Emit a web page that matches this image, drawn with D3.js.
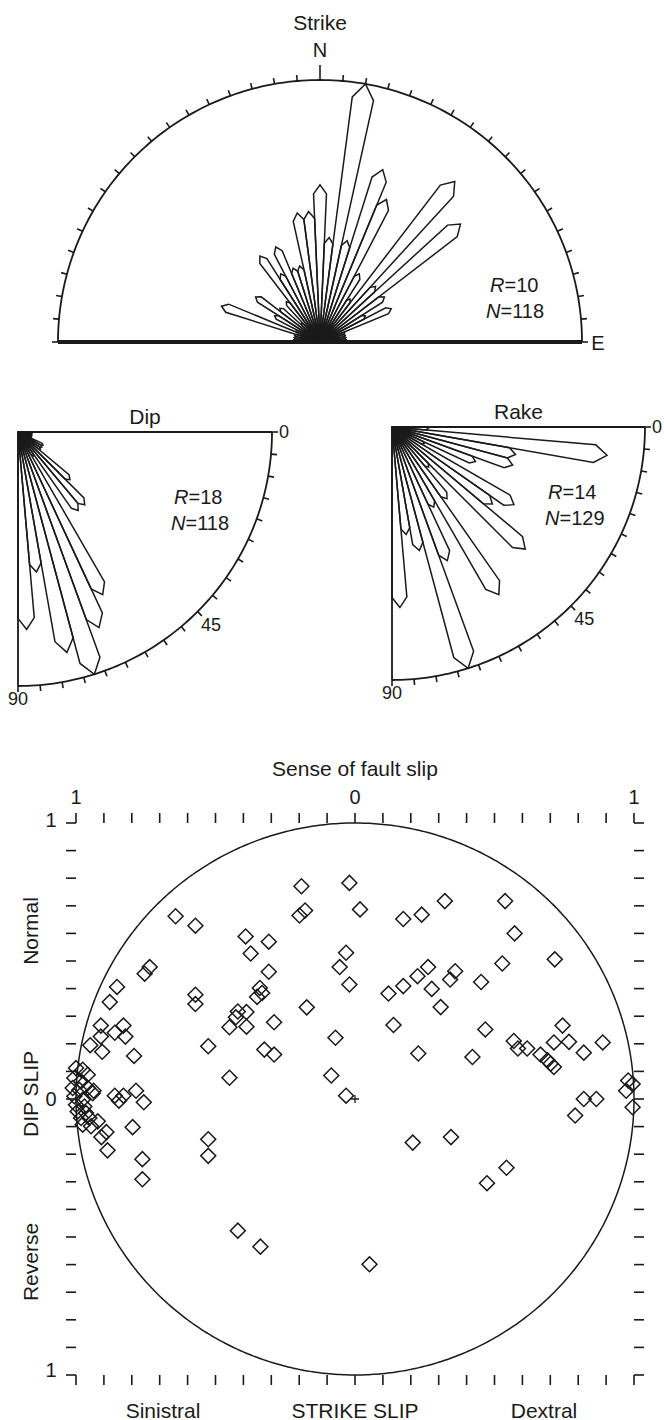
<!DOCTYPE html>
<html><head><meta charset="utf-8">
<script src="https://cdn.jsdelivr.net/npm/d3@7"></script>
<style>
body{margin:0;background:#fff;}
text{font-family:"Liberation Sans",Arial,Helvetica,sans-serif;fill:#1a1a1a;}
</style></head><body>
<svg id="chart" width="664" height="1420"></svg>
<script>
// ---------------- DATA ----------------
// Strike rose: azimuth bin centres (deg, clockwise from N) and counts
const strikeBins = [-90,-85,-80,-75,-70,-65,-60,-55,-50,-45,-40,-35,-30,-25,-20,-15,-10,-5,
                    0,5,10,15,20,25,30,35,40,45,50,55,60,65,70,75,80,85];
const strikeCounts = [1,1,1,1,4,1,2,3,2,1,2,4,3,4,3,3,5,5,
                      6,4,10,4,7,6,3,2,8,3,7,3,2,3,1,1,1,1];
const strikeR = 10, strikeN = 118;

// Dip rose: dip bin centres (deg) and counts
const dipBins = [2.5,7.5,12.5,17.5,22.5,27.5,32.5,37.5,42.5,47.5,52.5,57.5,62.5,67.5,72.5,77.5,82.5,87.5];
const dipCounts = [1,1,1,1,1,2,2,2,5,7,7,2,13,15,18,16,10,14];
const dipR = 18, dipN = 118;

// Rake rose: rake bin centres (deg) and counts
const rakeBins = [2.5,7.5,12.5,17.5,22.5,27.5,32.5,37.5,42.5,47.5,52.5,57.5,62.5,67.5,72.5,77.5,82.5,87.5];
const rakeCounts = [2,12,7,7,5,2,8,7,10,3,5,11,5,8,14,7,6,10];
const rakeR = 14, rakeN = 129;

// Sense of fault slip: strike-slip component (x, sinistral<0<dextral) and dip-slip component (y, reverse<0<normal)
const slipX = [-0.192,-0.020,0.018,-0.179,-0.199,-0.643,-0.572,0.322,0.538,0.173,0.239,0.572,-0.392,-0.309,-0.374,
  -0.032,-0.055,-0.020,0.716,0.528,0.262,0.224,0.173,0.359,0.341,0.275,0.452,0.120,0.307,-0.736,-0.754,-0.309,
  -0.341,-0.333,-0.351,-0.572,-0.572,-0.853,-0.879,-0.173,-0.420,-0.389,-0.427,-0.450,-0.389,-0.290,0.138,0.467,
  0.744,-0.911,-0.830,-0.861,-0.823,-0.911,-0.949,-0.906,-0.792,-0.526,-0.070,-0.325,-0.290,0.227,0.421,0.569,
  0.584,0.617,0.713,0.767,0.888,0.820,0.665,0.690,0.701,0.713,-0.450,-0.085,-0.032,-0.785,-0.757,-0.861,-0.830,
  -0.846,-0.797,-0.891,-0.887,-0.909,-0.937,-0.762,-0.762,-0.526,-0.526,0.207,0.344,0.473,0.543,-0.420,-0.339,
  0.052,0.820,0.865,0.789,0.995,0.972,0.995,0.979,
  -1.000,-0.976,-0.958,-1.006,-0.982,-1.012,-0.988,-0.958,-0.940,-1.006,-0.976,-1.000,-0.970,-0.994,-0.964,
  -0.982,-0.952,-0.976,-0.946,-0.922];
const slipY = [0.771,0.783,0.687,0.683,0.665,0.662,0.628,0.717,0.717,0.652,0.668,0.600,0.589,0.570,0.527,
  0.530,0.478,0.415,0.506,0.491,0.478,0.445,0.409,0.463,0.433,0.399,0.424,0.382,0.333,0.478,0.454,0.461,
  0.402,0.384,0.370,0.378,0.344,0.406,0.351,0.332,0.317,0.315,0.296,0.260,0.262,0.278,0.268,0.252,
  0.266,0.266,0.266,0.240,0.226,0.226,0.195,0.171,0.156,0.191,0.222,0.179,0.161,0.165,0.152,0.210,
  0.183,0.183,0.205,0.207,0.205,0.168,0.161,0.140,0.128,0.116,0.077,0.085,0.012,0.030,-0.012,0.012,0.012,
  -0.006,-0.102,-0.120,-0.186,-0.138,0.030,-0.218,-0.291,-0.146,-0.206,-0.158,-0.138,-0.305,-0.249,-0.477,-0.535,
  -0.599,0.000,0.000,-0.060,0.054,0.030,-0.030,0.067,
  0.112,0.106,0.088,0.076,0.064,0.040,0.033,0.040,0.021,0.010,-0.003,-0.021,-0.027,-0.045,-0.051,
  -0.069,-0.069,-0.093,-0.099,-0.081];
const slipTickLabels = ["1","0","1"];
const slipTickValues = [-1,0,1];

// ---------------- DRAWING ----------------
const svg = d3.select("#chart");
const ink = "#1a1a1a";
const deg = d3.scaleLinear().domain([0,180]).range([0,Math.PI]);

function petalPts(theta, L, hw){
  const d = 1.3 * L * Math.sin(deg(hw));
  return [[theta,0],[theta-hw,Math.max(0,L-d)],[theta,L],[theta+hw,Math.max(0,L-d)]];
}
function label(g, x, y, txt, size, anchor){
  return g.append("text").attr("x",x).attr("y",y).attr("font-size",size)
    .attr("text-anchor",anchor||"middle").attr("dominant-baseline","central").text(txt);
}
function rn(g, x, y, letter, rest, size){
  const t = g.append("text").attr("x",x).attr("y",y).attr("font-size",size);
  t.append("tspan").attr("font-style","italic").text(letter);
  t.append("tspan").text(rest);
}

// ===== Strike (half rose, angle = azimuth) =====
const S = {cx:320, cy:342, r:262};
const sR = d3.scaleLinear().domain([0,strikeR]).range([0,S.r]);
const gS = svg.append("g").attr("transform",`translate(${S.cx},${S.cy})`);
const radial = d3.lineRadial().angle(d=>deg(d[0])).radius(d=>d[1]);
gS.append("path").attr("d", radial(d3.range(-90,90.01,1).map(a=>[a,S.r])))
  .attr("fill","none").attr("stroke",ink).attr("stroke-width",1.8);
d3.range(-90,90.01,5).forEach(a=>{
  const len = a===0 ? 15 : 6;
  gS.append("path").attr("d", radial([[a,S.r],[a,S.r+len]])).attr("stroke",ink).attr("stroke-width",1.6);
});
strikeBins.forEach((b,i)=>{
  if(strikeCounts[i]<=0) return;
  gS.append("path").attr("d", radial(petalPts(b, sR(strikeCounts[i]), 2.5))+"Z")
    .attr("fill","none").attr("stroke",ink).attr("stroke-width",1.5).attr("stroke-linejoin","miter");
});
gS.append("line").attr("x1",-S.r).attr("x2",S.r).attr("y1",0).attr("y2",0)
  .attr("stroke",ink).attr("stroke-width",3.8);
label(svg, S.cx, 22, "Strike", 21);
label(svg, S.cx, 50, "N", 20);
label(svg, S.cx+S.r+16, S.cy+1, "E", 20);
rn(svg, 490, 292, "R", "="+strikeR, 20);
rn(svg, 486, 318, "N", "="+strikeN, 20);

// ===== Quadrant roses (angle from horizontal, downward) =====
function quadrant(o, r, bins, counts, maxR, nVal, title){
  const qR = d3.scaleLinear().domain([0,maxR]).range([0,r]);
  const g = svg.append("g").attr("transform",`translate(${o.x},${o.y})`);
  const qrad = d3.lineRadial().angle(d=>deg(d[0]+90)).radius(d=>d[1]);
  g.append("path").attr("d", qrad(d3.range(0,90.01,1).map(a=>[a,r])))
    .attr("fill","none").attr("stroke",ink).attr("stroke-width",1.8);
  g.append("path").attr("d", qrad([[0,r],[0,0],[90,r]])).attr("fill","none").attr("stroke",ink).attr("stroke-width",1.8);
  d3.range(0,90.01,5).forEach(a=>{
    g.append("path").attr("d", qrad([[a,r],[a,r+6]])).attr("stroke",ink).attr("stroke-width",1.6);
  });
  bins.forEach((b,i)=>{
    if(counts[i]<=0) return;
    g.append("path").attr("d", qrad(petalPts(b, qR(counts[i]), 2.5))+"Z")
      .attr("fill","none").attr("stroke",ink).attr("stroke-width",1.5);
  });
  label(g, r+12, 0, "0", 18);
  label(g, 0, r+13, "90", 18);
  const p45 = [ (r+19)*Math.cos(deg(45)), (r+19)*Math.sin(deg(45)) ];
  label(g, p45[0], p45[1], "45", 18);
  g.append("text").attr("x",r/2).attr("y",-8).attr("font-size",21).attr("text-anchor","middle").text(title);
  rn(g, 156, 72, "R", "="+maxR, 20);
  rn(g, 153, 98, "N", "="+nVal, 20);
}
quadrant({x:18,y:432}, 254, dipBins, dipCounts, dipR, dipN, "Dip");
quadrant({x:392,y:427}, 253, rakeBins, rakeCounts, rakeR, rakeN, "Rake");

// ===== Sense of fault slip =====
const xS = d3.scaleLinear().domain([-1,1]).range([76,634]);
const yS = d3.scaleLinear().domain([-1,1]).range([1375,823]);
const gP = svg.append("g");
const tk = 10;
xS.ticks(20).forEach(v=>{
  gP.append("line").attr("x1",xS(v)).attr("x2",xS(v)).attr("y1",yS(1)).attr("y2",yS(1)-tk).attr("stroke",ink).attr("stroke-width",1.6);
  gP.append("line").attr("x1",xS(v)).attr("x2",xS(v)).attr("y1",yS(-1)).attr("y2",yS(-1)+tk).attr("stroke",ink).attr("stroke-width",1.6);
});
yS.ticks(20).forEach(v=>{
  gP.append("line").attr("y1",yS(v)).attr("y2",yS(v)).attr("x1",xS(-1)).attr("x2",xS(-1)-tk).attr("stroke",ink).attr("stroke-width",1.6);
  gP.append("line").attr("y1",yS(v)).attr("y2",yS(v)).attr("x1",xS(1)).attr("x2",xS(1)+tk).attr("stroke",ink).attr("stroke-width",1.6);
});
const circ = d3.line().x(t=>xS(Math.cos(t))).y(t=>yS(Math.sin(t)));
gP.append("path").attr("d", circ(d3.range(0,2*Math.PI+0.01,0.01))).attr("fill","none").attr("stroke",ink).attr("stroke-width",1.5);
gP.append("path").attr("d",`M${xS(0)-4},${yS(0)}H${xS(0)+4}M${xS(0)},${yS(0)-4}V${yS(0)+4}`).attr("stroke",ink).attr("stroke-width",1.3);
const diamond = d3.symbol().type(d3.symbolSquare).size(112);
slipX.forEach((x,i)=>{
  gP.append("path").attr("d",diamond())
    .attr("transform",`translate(${xS(x)},${yS(slipY[i])}) rotate(45)`)
    .attr("fill","none").attr("stroke",ink).attr("stroke-width",1.5);
});
slipTickValues.forEach((v,i)=>{
  label(gP, xS(v), 797, slipTickLabels[i], 20);
  label(gP, 51, yS(-v)+ (v===-1? -3 : (v===1? -5:0)), slipTickLabels[i], 20);
});
label(gP, xS(0), 768, "Sense of fault slip", 21);
label(gP, 163, 1410, "Sinistral", 21);
label(gP, xS(0), 1410, "STRIKE SLIP", 21);
label(gP, 544, 1410, "Dextral", 21);
[["Normal",931],["DIP SLIP",1094],["Reverse",1262]].forEach(([t,y])=>{
  gP.append("text").attr("transform",`translate(30,${y}) rotate(-90)`).attr("font-size",21)
    .attr("text-anchor","middle").attr("dominant-baseline","central").text(t);
});
</script>
</body></html>
